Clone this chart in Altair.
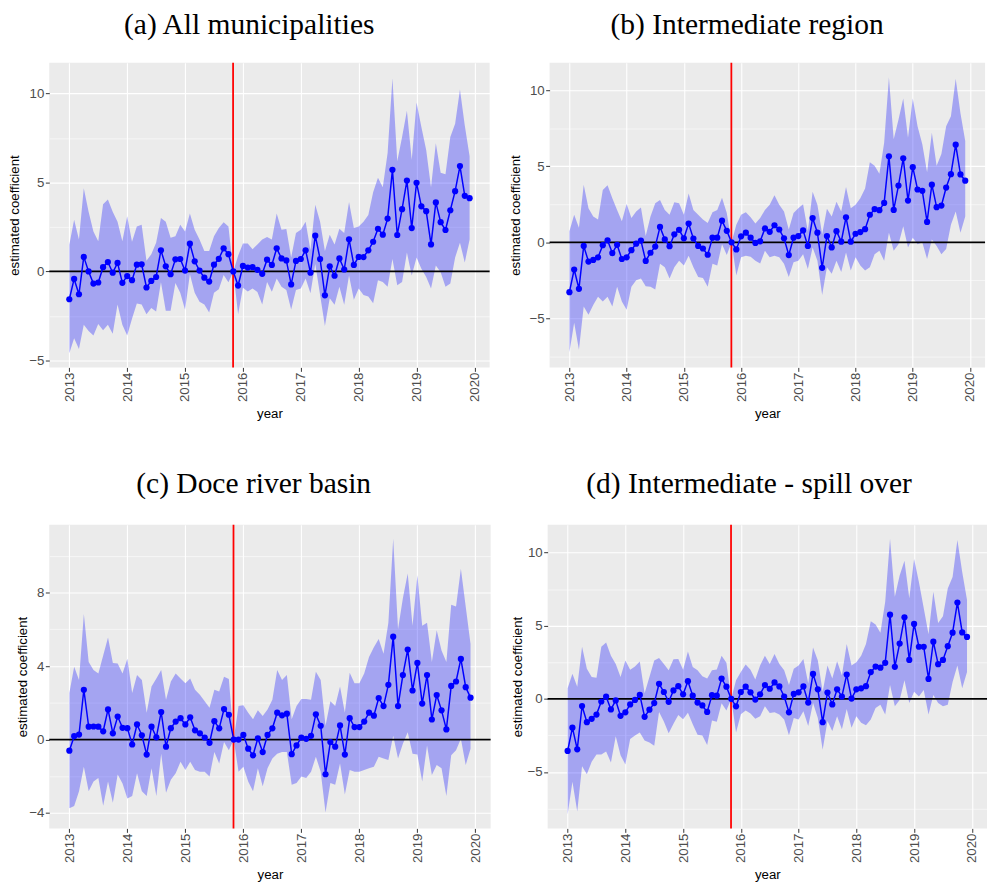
import altair as alt
import pandas as pd

# ---------------- data ----------------
MONTH_INDEX = list(range(84))                 # Jan 2013 ... Dec 2019
X_TIME = [2013 + m / 12 for m in MONTH_INDEX]  # decimal year of each month
EVENT = 2015.83                               # dam collapse (red line)
YEAR_TICKS = [2013, 2014, 2015, 2016, 2017, 2018, 2019, 2020]
HALF_YEAR_TICKS = [2013.5, 2014.5, 2015.5, 2016.5, 2017.5, 2018.5, 2019.5]
X_DOMAIN = [2012.654, 2020.263]

a_title = "(a) All municipalities"
a_est = [-1.56, -0.42, -1.28, 0.82, 0.00, -0.68, -0.62, 0.24, 0.53, -0.07, 0.48, -0.64, -0.26, -0.49, 0.38, 0.40,
         -0.90, -0.53, -0.31, 1.19, 0.29, -0.15, 0.68, 0.70, 0.05, 1.56, 0.57, 0.05, -0.35, -0.57, 0.38, 0.71,
         1.30, 0.97, 0.00, -0.79, 0.31, 0.22, 0.24, 0.09, -0.13,
         0.66, 0.37, 1.30, 0.73, 0.62, -0.73, 0.59, 0.70, 1.19, -0.07, 2.01, 0.70, -1.34, 0.29, -0.24, 0.73,
         0.11, 1.81, 0.37, 0.82, 0.81, 1.19, 1.67, 2.40, 2.07, 2.97, 5.71, 2.05, 3.50, 5.11, 2.44, 4.98, 3.66,
         3.39, 1.52, 3.88, 2.77, 2.33, 3.44, 4.51, 5.92, 4.25, 4.12]
a_hi = [1.5, 2.9, 1.8, 4.67, 3.35, 2.25, 1.7, 3.77, 4.05, 3.35, 2.8, 1.7, 3.1, 1.67, 2.53, 2.62, 0.6, 0.97,
        1.61, 3.0, 2.8, 1.89, 1.98, 2.62, 2.25, 3.26, 2.34, 1.8, 1.15, 1.15, 1.98, 2.44, 2.77, 2.53, 0.0, 0.88,
        1.57, 1.57, 1.25, 1.52, 1.8,
        1.94, 1.8, 3.26, 2.34, 2.38, 0.79, 2.16, 2.34, 2.8, 1.19, 3.75, 2.8, 1.15, 2.07, 1.52, 2.4, 2.16, 3.9,
        2.44, 2.53, 2.8, 3.17, 4.45, 5.27, 4.73, 6.65, 10.86, 6.19, 7.56, 9.03, 6.28, 9.49, 8.11, 6.83, 4.73,
        7.2, 5.55, 5.46, 7.56, 8.3, 10.22, 8.2, 6.47]
a_lo = [-4.6, -3.75, -4.35, -3.0, -3.35, -3.6, -2.95, -3.3, -3.0, -3.5, -1.85, -3.0, -3.6, -2.65, -1.8, -1.85,
        -2.4, -2.05, -2.25, -0.6, -2.2, -2.2, -0.65, -1.2, -2.15, -0.15, -1.2, -1.7, -1.85, -2.3, -1.2, -1.0,
        -0.2, -0.6, 0.0, -2.4, -0.92, -1.13, -0.95, -1.15, -1.85,
        -0.59, -1.14, -0.4, -0.86, -1.04, -2.14, -1.04, -0.95, -0.4, -1.23, 0.42, -1.32, -3.06, -1.5, -1.87,
        -0.86, -1.87, -0.22, -1.59, -0.95, -1.32, -1.41, -1.78, -0.49, -0.59, -0.86, 0.7, -0.77, -0.59, 1.06,
        -0.22, 0.79, 0.15, -0.31, -0.95, 0.33, -0.04, -0.86, -0.68, 0.79, 1.61, 0.51, 1.8]

b_title = "(b) Intermediate region"
b_est = [-3.28, -1.79, -3.06, -0.24, -1.27, -1.16, -0.99, -0.19, 0.13, -0.71, -0.17, -1.10, -0.99, -0.52, -0.09,
         0.11, -1.23, -0.69, -0.28, 1.01, 0.19, -0.26, 0.52, 0.82, 0.26, 1.23, 0.24, -0.24, -0.41, -0.82, 0.30,
         0.30, 1.42, 0.75, 0.00, -0.47, 0.39, 0.63, 0.30, -0.04, 0.06,
         0.91, 0.69, 1.12, 0.84, 0.26, -0.84, 0.30, 0.41, 0.78, -0.24, 1.59, 0.63, -1.68, 0.41, -0.34, 0.73,
         0.04, 1.64, 0.04, 0.56, 0.67, 0.86, 1.81, 2.18, 2.11, 2.59, 5.65, 2.13, 3.73, 5.52, 2.74, 4.94, 3.47,
         3.38, 1.34, 3.79, 2.31, 2.41, 3.60, 4.48, 6.42, 4.46, 4.05]
b_hi = [0.73, 1.81, 0.95, 3.79, 2.24, 1.70, 1.49, 3.43, 3.75, 2.89, 2.13, 1.38, 2.52, 1.59, 2.03, 2.28, 0.41,
        1.70, 2.56, 2.78, 2.13, 1.81, 2.63, 2.56, 1.81, 3.21, 2.13, 1.81, 1.49, 1.27, 1.98, 2.13, 2.93, 1.92,
        0.0, 1.16, 1.81, 1.98, 1.64, 1.23, 1.59,
        2.13, 2.46, 3.10, 2.46, 2.03, 0.84, 1.92, 2.24, 2.5, 0.73, 3.32, 2.46, 0.52, 2.2, 1.7, 2.67, 2.03,
        3.64, 2.24, 2.46, 2.89, 3.53, 5.26, 5.04, 4.5, 6.55, 10.86, 6.77, 8.06, 9.46, 6.88, 9.46, 7.63, 6.44,
        4.61, 7.2, 5.04, 5.8, 7.63, 8.28, 10.75, 8.49, 6.66]
b_lo = [-7.24, -5.30, -7.07, -4.22, -4.76, -4.12, -3.58, -3.90, -3.58, -4.22, -2.93, -3.90, -4.44, -2.93,
        -2.50, -2.39, -2.89, -2.93, -3.10, -1.42, -1.64, -2.39, -1.64, -1.21, -1.53, -0.88, -1.64, -2.28, -2.35,
        -2.93, -1.42, -1.53, -0.13, -0.84, 0.0, -2.18, -0.99, -0.88, -0.95, -1.21, -1.4,
        -0.56, -0.99, -0.88, -0.99, -1.42, -2.28, -1.31, -1.21, -0.78, -1.75, -0.34, -1.21, -3.47, -1.64,
        -2.07, -1.21, -1.96, -0.67, -1.85, -0.99, -1.53, -1.85, -1.64, -0.78, -0.56, -1.21, 0.63, -0.56, -0.13,
        1.06, -0.34, 0.30, -0.13, -0.02, -1.10, 0.19, -0.24, -0.78, -0.45, 1.16, 2.03, 0.63, 1.70]

c_title = "(c) Doce river basin"
c_est = [-0.61, 0.18, 0.27, 2.71, 0.70, 0.71, 0.70, 0.45, 1.64, 0.34, 1.25, 0.64, 0.62, -0.27, 0.82, 0.23,
         -0.82, 0.70, 0.12, 1.50, -0.39, 0.62, 0.98, 1.16, 0.82, 1.21, 0.50, 0.34, 0.11, -0.18, 1.00, 0.61,
         1.66, 1.35, 0.00, 0.00, 0.25, -0.50, -0.86, 0.07, -0.68,
         0.25, 0.61, 1.46, 1.32, 1.41, -0.80, -0.32, 0.11, 0.04, 0.20, 1.37, 0.75, -1.89, -0.14, -0.39, 0.77,
         -0.82, 1.16, 0.68, 0.68, 0.98, 1.46, 1.30, 2.26, 1.82, 2.98, 5.60, 1.82, 3.51, 4.90, 2.67, 4.17, 1.96,
         3.51, 1.09, 2.42, 1.59, 0.55, 2.92, 3.16, 4.39, 2.85, 2.28]
c_hi = [2.53, 3.96, 3.24, 6.84, 4.22, 3.78, 3.6, 4.58, 5.56, 4.17, 4.14, 3.6, 4.4, 2.53, 3.51, 3.24, 1.46,
        2.89, 3.33, 3.78, 2.17, 3.16, 3.6, 3.33, 3.07, 3.33, 2.71, 2.44, 2.09, 1.73, 2.71, 2.62, 3.42, 3.3, 0.0,
        1.82, 1.87, 1.46, 1.11, 1.6, 1.28,
        1.64, 2.17, 3.78, 3.24, 3.51, 1.11, 1.82, 2.21, 2.21, 2.17, 3.69, 3.24, 0.75, 2.09, 1.82, 2.89, 1.46,
        3.64, 3.07, 3.07, 3.6, 4.49, 5.03, 5.47, 4.67, 6.36, 10.94, 6.0, 7.7, 9.04, 6.19, 8.95, 6.19, 6.36,
        4.22, 5.95, 4.85, 4.22, 7.34, 7.25, 9.3, 7.25, 5.2]
c_lo = [-3.74, -3.62, -2.82, -1.48, -2.82, -2.28, -2.1, -3.6, -2.28, -3.44, -1.9, -2.4, -3.21, -3.08, -1.84,
        -2.82, -3.08, -1.57, -3.08, -0.77, -2.9, -2.19, -1.84, -1.21, -1.66, -1.21, -1.66, -1.75, -1.75, -2.01,
        -0.68, -1.3, -0.14, -0.59, 0.0, -1.75, -1.48, -2.28, -2.82, -1.57, -2.55,
        -1.57, -1.03, -0.77, -0.68, -0.68, -2.46, -2.37, -2.01, -2.1, -1.75, -0.94, -1.75, -3.97, -2.37, -2.46,
        -1.3, -2.99, -1.66, -1.75, -1.75, -1.66, -1.57, -1.48, -0.94, -1.03, -1.12, 0.21, -1.03, -0.23, 0.39,
        -0.77, -0.82, -2.28, -0.32, -1.93, -1.39, -1.57, -3.08, -0.86, -0.59, 0.04, -1.39, -0.5]

d_title = "(d) Intermediate - spill over"
d_est = [-3.56, -1.97, -3.45, -0.49, -1.59, -1.36, -1.07, -0.18, 0.16, -0.72, -0.11, -1.16, -0.92, -0.38,
         -0.07, 0.27, -1.23, -0.74, -0.29, 1.03, 0.47, -0.20, 0.58, 0.87, 0.31, 1.21, 0.22, -0.25, -0.45,
         -0.89, 0.25, 0.22, 1.39, 0.83, 0.00, -0.51, 0.47, 0.83, 0.45, -0.05,
         0.31, 0.94, 0.69, 1.12, 0.85, 0.16, -0.92, 0.34, 0.45, 0.85, -0.25, 1.70, 0.65, -1.59, 0.43, -0.38,
         0.65, 0.16, 1.66, 0.02, 0.65, 0.72, 0.87, 1.83, 2.21, 2.13, 2.46, 5.75, 2.19, 3.78, 5.57, 2.66, 5.12,
         3.56, 3.56, 1.36, 3.91, 2.37, 2.66, 3.60, 4.52, 6.58, 4.54, 4.23]
d_hi = [0.72, 1.72, 0.83, 3.56, 2.06, 1.5, 1.45, 3.56, 3.85, 2.95, 2.39, 1.5, 2.62, 1.99, 2.21, 2.55, 0.38,
        1.5, 2.62, 2.8, 2.39, 1.95, 2.71, 2.73, 1.99, 3.24, 2.17, 1.95, 1.54, 1.39, 1.95, 2.01, 2.95, 2.46,
        0.0, 1.28, 1.83, 2.35, 1.99, 1.32,
        2.28, 2.95, 2.39, 3.06, 2.39, 1.95, 0.94, 2.06, 2.28, 2.73, 1.05, 3.51, 2.62, 0.49, 2.28, 1.39, 2.57,
        1.61, 3.74, 2.28, 2.51, 2.95, 3.74, 5.3, 5.08, 4.52, 6.64, 10.94, 6.98, 8.43, 9.44, 6.87, 9.55, 7.99,
        6.2, 4.41, 7.32, 5.19, 5.64, 7.54, 8.32, 10.85, 8.66, 6.76]
d_lo = [-7.9, -5.66, -7.7, -4.6, -5.15, -4.3, -3.8, -3.8, -3.6, -4.35, -2.55, -3.85, -4.48, -2.75, -2.5,
        -2.3, -2.85, -2.98, -3.2, -0.9, -1.55, -2.35, -1.7, -1.1, -1.4, -0.95, -1.73, -2.45, -2.5, -3.15,
        -1.48, -1.57, -0.3, -0.8, 0.0, -2.3, -1.05, -0.8, -1.0, -1.35,
        -1.19, -0.51, -0.96, -0.92, -1.07, -1.41, -2.48, -1.3, -1.41, -0.85, -1.86, -0.29, -1.3, -3.47, -1.52,
        -2.19, -1.19, -2.08, -0.69, -1.97, -1.19, -1.63, -1.81, -1.41, -0.63, -0.4, -1.07, 0.94, -0.51, -0.07,
        1.28, -0.29, 0.49, 0.16, 0.6, -1.07, 0.27, -0.29, -0.51, -0.4, 1.16, 2.28, 0.72, 1.83]

# ---------------- styling ----------------
BLUE = "#0000FF"
TITLE_FONT = "Liberation Serif"
AXIS_FONT = "Liberation Sans"


def panel(title, est, lo, hi, ydomain, ymajor, yminor, width, height, extent, tpad, toffset):
    df = pd.DataFrame({"t": X_TIME, "est": est, "lo": lo, "hi": hi})
    zero_df = pd.DataFrame({"zero": [0.0]})
    event_df = pd.DataFrame({"event": [EVENT]})

    xmajor_test = "datum.value % 1 == 0"
    ymajor_test = "indexof(%s, datum.value) >= 0" % str(ymajor).replace(" ", "")

    xscale = alt.Scale(domain=X_DOMAIN, nice=False, zero=False)
    yscale = alt.Scale(domain=ydomain, nice=False, zero=False)

    xaxis = alt.Axis(
        values=YEAR_TICKS + HALF_YEAR_TICKS, format="d",
        labelExpr="%s ? datum.label : ''" % xmajor_test,
        labelAngle=-90, labelAlign="right", labelBaseline="middle",
        labelPadding=0.8, labelOverlap=False, labelFlush=False,
        gridWidth={"condition": {"test": xmajor_test, "value": 1.1}, "value": 0.55},
        tickOpacity={"condition": {"test": xmajor_test, "value": 1}, "value": 0},
        titlePadding=5,
    )
    yaxis = alt.Axis(
        values=sorted(ymajor + yminor),
        labelExpr="%s ? datum.label : ''" % ymajor_test,
        labelPadding=1.5, labelOverlap=False, labelFlush=False,
        gridWidth={"condition": {"test": ymajor_test, "value": 1.1}, "value": 0.55},
        tickOpacity={"condition": {"test": ymajor_test, "value": 1}, "value": 0},
        minExtent=extent, maxExtent=extent, titlePadding=tpad,
    )

    def X(field):
        return alt.X(field, type="quantitative", scale=xscale, axis=xaxis, title="year")

    def Y(field):
        return alt.Y(field, type="quantitative", scale=yscale, axis=yaxis,
                     title="estimated coefficient")

    band = alt.Chart(df).mark_area(color=BLUE, opacity=0.3).encode(
        x=X("t"), y=Y("lo"), y2=alt.Y2("hi"))
    zero = alt.Chart(zero_df).mark_rule(color="black", strokeWidth=1.8).encode(y=Y("zero"))
    event = alt.Chart(event_df).mark_rule(color="#FF0000", strokeWidth=1.8).encode(x=X("event"))
    line = alt.Chart(df).mark_line(color=BLUE, strokeWidth=1.5).encode(x=X("t"), y=Y("est"))
    pts = alt.Chart(df).mark_circle(color=BLUE, size=40, opacity=1).encode(x=X("t"), y=Y("est"))

    return alt.layer(band, zero, event, line, pts).properties(
        width=width, height=height,
        title=alt.TitleParams(title, font=TITLE_FONT, fontSize=30, fontWeight="normal",
                              color="black", anchor="middle", frame="bounds",
                              offset=toffset),
    )


pa = panel(a_title, a_est, a_lo, a_hi, [-5.39, 11.73], [-5, 0, 5, 10], [-2.5, 2.5, 7.5],
           448, 310, 21, 7, 22)
pb = panel(b_title, b_est, b_lo, b_hi, [-8.23, 11.81], [-5, 0, 5, 10], [-7.5, -2.5, 2.5, 7.5],
           443, 310, 21, 7, 22)
pc = panel(c_title, c_est, c_lo, c_hi, [-4.84, 11.7], [-4, 0, 4, 8], [-2, 2, 6, 10],
           449, 309, 19, 1, 25)
pd_ = panel(d_title, d_est, d_lo, d_hi, [-8.85, 11.9], [-5, 0, 5, 10], [-7.5, -2.5, 2.5, 7.5],
            447, 309, 21, 3, 25)

row1 = alt.hconcat(pa, pb, spacing=18)
row2 = alt.hconcat(pc, pd_, spacing=19)

chart = alt.vconcat(row1, row2, spacing=50).properties(
    padding={"left": 0, "top": -5, "right": 0, "bottom": 0},
    background="white",
).configure_view(
    fill="#EBEBEB", stroke=None,
).configure_axis(
    domain=False, grid=True, gridColor="white",
    labelFont=AXIS_FONT, labelFontSize=13.5, labelColor="#4D4D4D",
    tickColor="#333333", tickSize=4, tickWidth=1,
    titleFont=AXIS_FONT, titleFontSize=13.5, titleFontWeight="normal", titleColor="black",
)

chart.save("out.html", embed_options={"renderer": "svg", "actions": False})
